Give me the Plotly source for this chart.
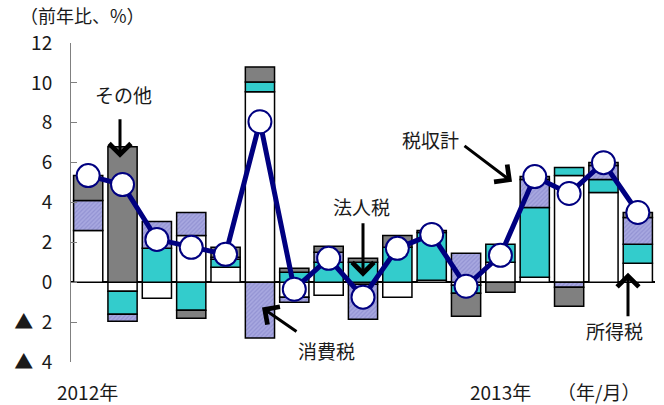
import plotly.graph_objects as go

months = list(range(17))  # 2012/1 .. 2013/5
shotoku = [2.6, -0.45, -0.8, 2.35, 0.75, 9.55, -0.75, -0.65, -0.1, -0.75, 0.1, -0.15, 1.0, 0.25, 5.35, 4.5, 0.95]
hojin = [0, -1.15, 1.7, -1.4, 0.4, 0.5, 0.5, 1.0, 1.0, 1.75, 2.4, -0.4, 0.9, 3.5, 0.4, 0.65, 0.95]
shohi = [1.5, -0.35, 1.35, 1.15, 0.1, -2.8, -0.25, 0.5, -1.75, 0, 0, 1.45, 0, 1.4, -0.25, 0.7, 1.35]
sonota = [1.25, 6.8, 0, -0.4, 0.5, 0.75, 0.2, 0.3, 0.2, 0.6, 0.1, -1.15, -0.5, 0.15, -0.95, 0.15, 0.25]
total = [5.35, 4.9, 2.15, 1.75, 1.4, 8.05, -0.35, 1.2, -0.75, 1.7, 2.4, -0.2, 1.35, 5.3, 4.45, 6.0, 3.5]
ytick_vals = [-4, -2, 0, 2, 4, 6, 8, 10, 12]
ytick_text = ["▲  4", "▲  2", "0", "2", "4", "6", "8", "10", "12"]

FONT = "Noto Sans CJK JP"
W, H = 664, 405
L, R, T, B = 71, 655, 43, 362.5

def nz(a):
    return [None if v == 0 else v for v in a]

fig = go.Figure()
line = dict(color="black", width=1.5)
fig.add_bar(x=months, y=nz(shotoku), name="所得税", marker=dict(color="white", line=line))
fig.add_bar(x=months, y=nz(hojin), name="法人税", marker=dict(color="#33CCCC", line=line))
fig.add_bar(x=months, y=nz(shohi), name="消費税",
            marker=dict(color="#A4A4DC", line=line,
                        pattern=dict(shape="/", bgcolor="#A8A8E0", fgcolor="#7C7CC4", size=3, solidity=0.4)))
fig.add_bar(x=months, y=nz(sonota), name="その他", marker=dict(color="#808080", line=line))
fig.add_scatter(x=months, y=total, mode="lines+markers", name="税収計",
                line=dict(color="#000080", width=5),
                marker=dict(size=23, color="white", line=dict(color="#000080", width=2)))

def px(x):
    return (x - L) / (R - L)

def py(y):
    return (B - y) / (B - T)

anns = []
def text(t, x, y, size=19):
    anns.append(dict(text=t, x=px(x), y=py(y), xref="paper", yref="paper",
                     showarrow=False, xanchor="center", yanchor="middle",
                     font=dict(family=FONT, size=size, color="#1a1a1a")))

def arrow(hx, hy, tx, ty):
    anns.append(dict(text="", x=px(hx), y=py(hy), xref="paper", yref="paper",
                     showarrow=True, ax=tx - hx, ay=ty - hy, arrowhead=4,
                     arrowsize=1.4, arrowwidth=3, arrowcolor="black"))

text("（前年比、%）", 82, 15, size=18)
text("その他", 123, 95)
arrow(120, 158, 120, 118)
text("消費税", 326, 351)
arrow(262, 308, 298, 333)
text("法人税", 361, 207)
arrow(363, 277, 363, 222)
text("税収計", 430, 140)
arrow(512, 182, 463, 145)
text("所得税", 614, 331)
arrow(628, 273, 628, 318)
text("2012年", 87, 392)
text("2013年", 500, 392)
text("（年/月）", 598, 392)

fig.update_layout(
    width=W, height=H, barmode="relative", bargap=0.15,
    margin=dict(l=L, r=W - R, t=T, b=H - B),
    paper_bgcolor="white", plot_bgcolor="white", showlegend=False,
    font=dict(family=FONT, size=19, color="#1a1a1a"),
    annotations=anns,
    xaxis=dict(range=[-0.5, 16.5], visible=False),
    yaxis=dict(range=[-4, 12], tickvals=ytick_vals, ticktext=ytick_text,
               showgrid=False, zeroline=True, zerolinecolor="black", zerolinewidth=1.5,
               showline=True, linecolor="#808080", linewidth=1,
               ticks="inside", ticklen=6, tickcolor="#808080",
               ticklabelstandoff=14, layer="above traces",
               tickfont=dict(family=FONT, size=19, color="#1a1a1a")),
)
fig.write_html("out.html")
